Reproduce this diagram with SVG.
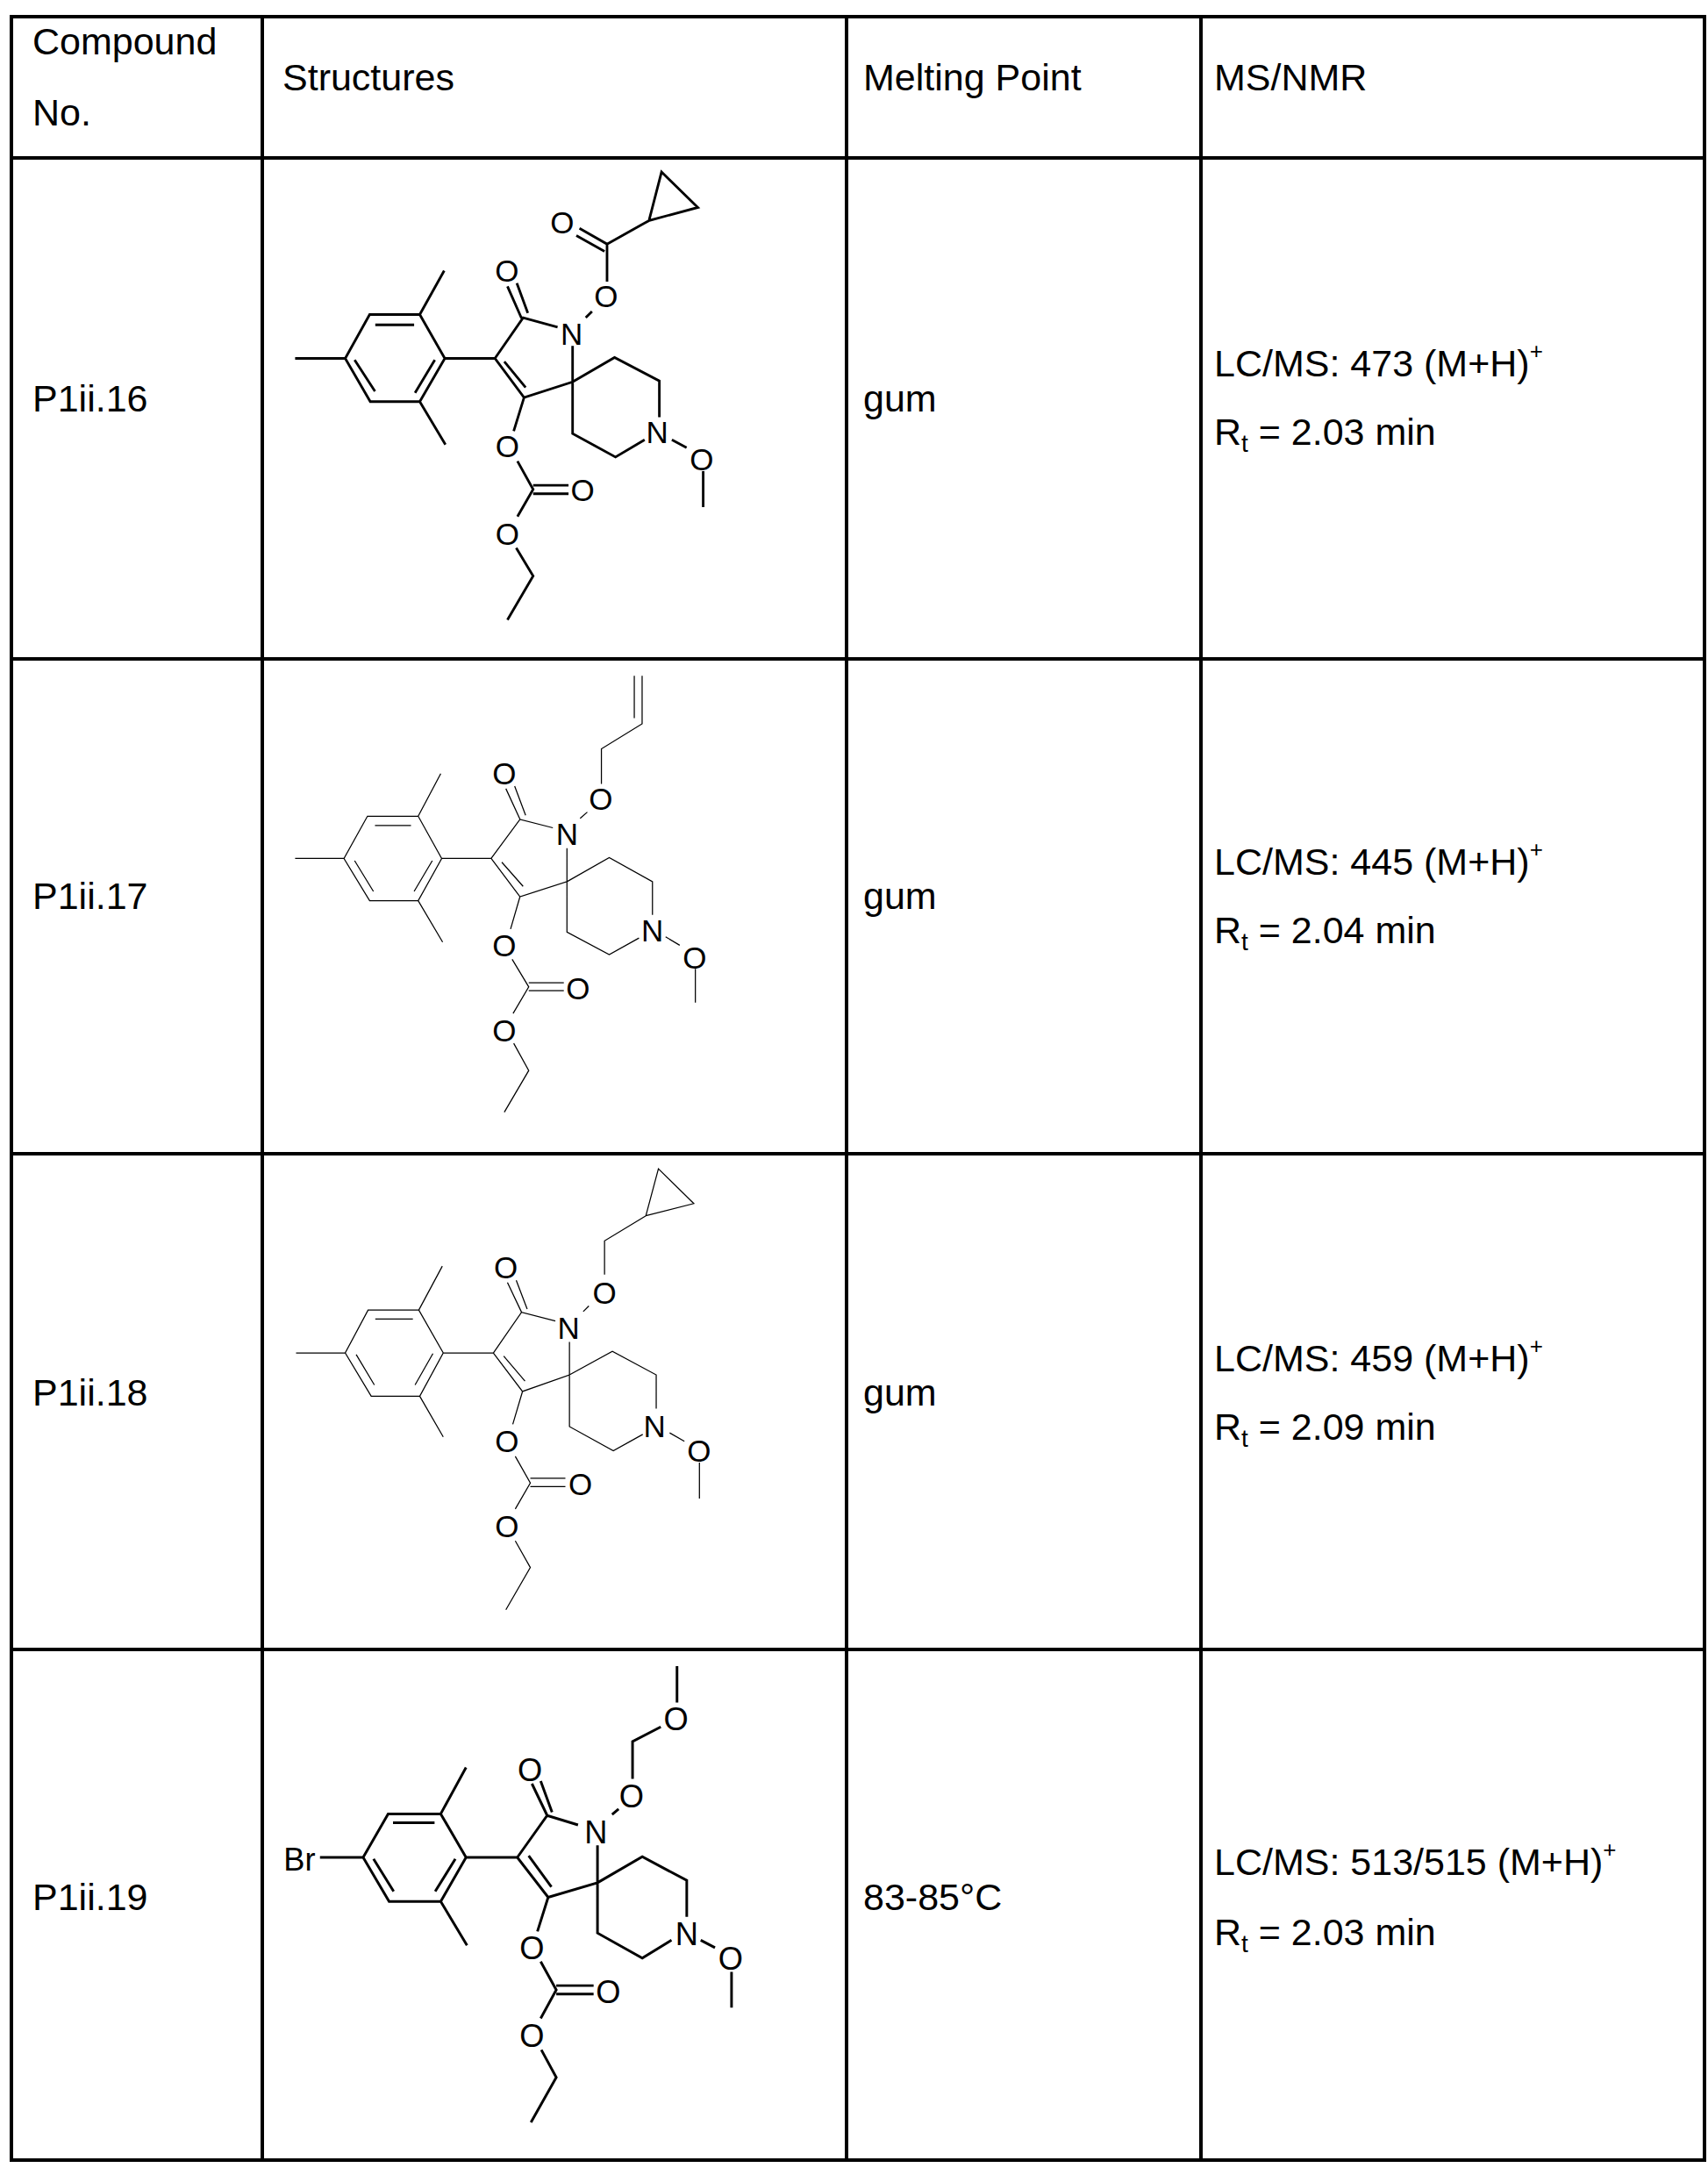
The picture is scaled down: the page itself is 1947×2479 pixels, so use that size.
<svg xmlns="http://www.w3.org/2000/svg" width="1947" height="2479" viewBox="0 0 1947 2479">
<style>
.g{stroke:#000;stroke-width:4;fill:none}
.t{font-family:"Liberation Sans",Arial,sans-serif;font-size:43px;fill:#000}
.b{stroke:#000;fill:none;stroke-linejoin:miter}
.a{font-family:"Liberation Sans",Arial,sans-serif;font-size:98px;fill:#000;text-anchor:middle}
.thick .b{stroke-width:8}
.thin .b{stroke-width:3.5}
</style>
<rect width="1947" height="2479" fill="#fff"/>
<g id="grid" class="g">
<rect x="13" y="19" width="1930" height="2443"/>
<line x1="13" y1="180" x2="1943" y2="180"/>
<line x1="13" y1="751" x2="1943" y2="751"/>
<line x1="13" y1="1315" x2="1943" y2="1315"/>
<line x1="13" y1="1880" x2="1943" y2="1880"/>
<line x1="299" y1="19" x2="299" y2="2462"/>
<line x1="965" y1="19" x2="965" y2="2462"/>
<line x1="1369" y1="19" x2="1369" y2="2462"/>
</g>
<g id="header" class="t">
<text x="37" y="62">Compound</text>
<text x="37" y="143">No.</text>
<text x="322" y="103">Structures</text>
<text x="984" y="103">Melting Point</text>
<text x="1384" y="103">MS/NMR</text>
</g>
<g id="row1" class="t">
<text x="37" y="469">P1ii.16</text>
<text x="984" y="469">gum</text>
<text x="1384" y="429">LC/MS: 473 (M+H)<tspan font-size="26" dy="-20">+</tspan></text>
<text x="1384" y="507">R<tspan font-size="28" dy="8">t</tspan><tspan dy="-8"> = 2.03 min</tspan></text>
</g>
<g id="row2" class="t">
<text x="37" y="1036">P1ii.17</text>
<text x="984" y="1036">gum</text>
<text x="1384" y="997">LC/MS: 445 (M+H)<tspan font-size="26" dy="-20">+</tspan></text>
<text x="1384" y="1075">R<tspan font-size="28" dy="8">t</tspan><tspan dy="-8"> = 2.04 min</tspan></text>
</g>
<g id="row3" class="t">
<text x="37" y="1602">P1ii.18</text>
<text x="984" y="1602">gum</text>
<text x="1384" y="1563">LC/MS: 459 (M+H)<tspan font-size="26" dy="-20">+</tspan></text>
<text x="1384" y="1641">R<tspan font-size="28" dy="8">t</tspan><tspan dy="-8"> = 2.09 min</tspan></text>
</g>
<g id="row4" class="t">
<text x="37" y="2177">P1ii.19</text>
<text x="984" y="2177">83-85°C</text>
<text x="1384" y="2137">LC/MS: 513/515 (M+H)<tspan font-size="26" dy="-20">+</tspan></text>
<text x="1384" y="2217">R<tspan font-size="28" dy="8">t</tspan><tspan dy="-8"> = 2.03 min</tspan></text>
</g>

<g id="s1" class="thick" transform="translate(300,180) scale(0.357)">
<path class="b" d="M500,500 L340,500 L262,640 L342,778 L500,778 L580,640 Z M358,533 L482,533 M292,645 L357,745 M485,750 L548,645 M500,500 L578,360 M500,778 L582,915 M262,640 L102,640 M580,640 L740,640 L833,765 L988,715 L988,600 M740,640 L830,510 L940,540 M770,650 L838,733 M780,410 L825,512 M810,400 L845,495 M1030,510 L1050,490 M1098,395 L1098,275 L1010,225 M1090,298 L1000,248 M1098,275 L1232,200 M1232,200 L1272,45 L1388,158 Z M988,715 L1122,637 L1265,712 L1265,828 M1218,900 L1125,955 L988,880 L988,715 M1305,900 L1352,925 M1405,1000 L1405,1115 M833,765 L800,872 M812,968 L862,1058 L812,1145 M862,1045 L975,1045 M862,1072 L975,1072 M808,1245 L862,1335 L780,1475"/>
<text class="a" x="955" y="241">O</text>
<text class="a" x="778" y="396">O</text>
<text class="a" x="1095" y="476">O</text>
<text class="a" x="985" y="596">N</text>
<text class="a" x="1258" y="911">N</text>
<text class="a" x="1400" y="996">O</text>
<text class="a" x="780" y="956">O</text>
<text class="a" x="1020" y="1096">O</text>
<text class="a" x="780" y="1236">O</text>
</g>

<g id="s2" class="thin" transform="translate(300,740) scale(0.357)">
<path class="b" d="M495,533 L333,533 L258,668 L340,803 L495,803 L570,668 Z M357,563 L472,563 M292,675 L352,773 M482,773 L540,675 M495,533 L567,397 M495,803 L573,935 M258,668 L102,668 M570,668 L728,668 L820,790 L970,742 L970,635 M728,668 L820,543 L925,570 M762,680 L830,757 M775,445 L820,543 M803,437 L838,530 M1012,540 L1035,520 M1080,430 L1080,318 L1210,238 L1210,85 M1185,220 L1185,85 M970,742 L1105,665 L1243,742 L1243,848 M1200,922 L1105,975 L970,903 L970,742 M1285,918 L1330,945 M1380,1020 L1380,1128 M820,790 L790,893 M795,990 L848,1078 L798,1163 M848,1065 L960,1065 M848,1090 L960,1090 M800,1258 L848,1345 L770,1478"/>
<text class="a" x="770" y="431">O</text>
<text class="a" x="970" y="626">N</text>
<text class="a" x="1078" y="514">O</text>
<text class="a" x="1243" y="934">N</text>
<text class="a" x="1378" y="1021">O</text>
<text class="a" x="770" y="979">O</text>
<text class="a" x="1005" y="1118">O</text>
<text class="a" x="770" y="1251">O</text>
</g>

<g id="s3" class="thin" transform="translate(300,1310) scale(0.357)">
<path class="b" d="M497,513 L335,513 L262,650 L345,788 L500,788 L575,650 Z M358,542 L478,542 M297,655 L355,752 M485,752 L542,652 M497,513 L572,373 M500,788 L575,918 M262,650 L105,650 M575,650 L735,650 L828,773 L978,720 L978,615 M735,650 L825,520 L933,548 M768,660 L836,740 M780,425 L825,520 M808,418 L843,510 M1022,518 L1040,500 M1090,400 L1090,292 L1222,212 M1222,212 L1262,62 L1375,173 Z M978,720 L1115,645 L1255,720 L1255,828 M1212,910 L1118,962 L978,885 L978,720 M1298,905 L1345,932 M1393,1000 L1393,1115 M828,773 L797,878 M805,980 L853,1065 L805,1148 M853,1050 L965,1050 M853,1077 L965,1077 M805,1250 L853,1335 L775,1470"/>
<text class="a" x="775" y="411">O</text>
<text class="a" x="975" y="606">N</text>
<text class="a" x="1090" y="494">O</text>
<text class="a" x="1250" y="918">N</text>
<text class="a" x="1392" y="998">O</text>
<text class="a" x="778" y="966">O</text>
<text class="a" x="1013" y="1104">O</text>
<text class="a" x="778" y="1239">O</text>
</g>

<g id="s4" class="thick" transform="translate(300,1885) scale(0.370)">
<path class="b" d="M547,493 L385,493 L308,627 L388,763 L547,763 L625,627 Z M400,520 L528,520 M340,632 L402,732 M530,732 L592,632 M547,493 L625,350 M547,763 L628,898 M308,627 L175,627 M625,627 L783,627 L878,750 L1030,705 L1030,590 M783,627 L875,498 L970,527 M818,622 L888,718 M828,400 L875,498 M855,392 L890,488 M1075,495 L1095,478 M1138,385 L1138,270 L1225,225 M1275,150 L1275,38 M1030,705 L1168,625 L1305,698 L1305,810 M1258,882 L1168,937 L1030,860 L1030,705 M1348,882 L1392,905 M1443,980 L1443,1090 M878,750 L845,855 M855,948 L903,1035 L855,1123 M903,1022 L1018,1022 M903,1048 L1018,1048 M857,1220 L903,1305 L825,1443"/>
<text class="a" x="112" y="668">Br</text>
<text class="a" x="822" y="391">O</text>
<text class="a" x="1025" y="584">N</text>
<text class="a" x="1135" y="474">O</text>
<text class="a" x="1272" y="236">O</text>
<text class="a" x="1305" y="896">N</text>
<text class="a" x="1440" y="974">O</text>
<text class="a" x="828" y="941">O</text>
<text class="a" x="1063" y="1076">O</text>
<text class="a" x="828" y="1211">O</text>
</g>
</svg>
